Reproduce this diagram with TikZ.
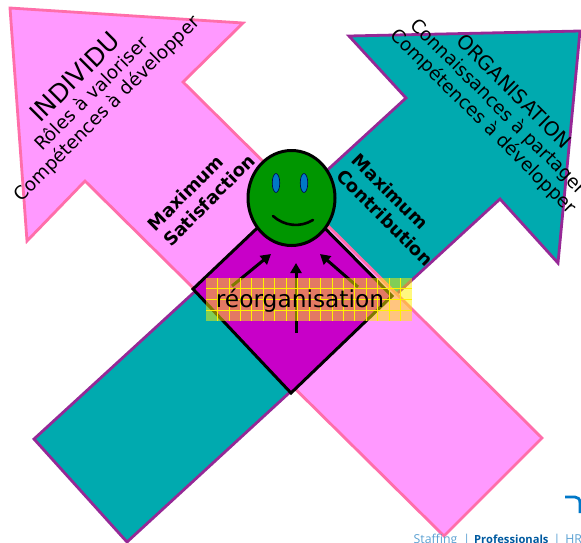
\documentclass[tikz,border=0pt]{standalone}
\usepackage{fontspec}
\setmainfont{DejaVu Sans}
\newfontfamily\footfont{Open Sans}
\usetikzlibrary{arrows.meta,shapes.geometric}
\definecolor{pinkfill}{RGB}{255,153,255}
\definecolor{pinkedge}{RGB}{255,110,170}
\definecolor{tealfill}{RGB}{0,170,175}
\definecolor{tealedge}{RGB}{150,40,150}
\definecolor{diamondfill}{RGB}{200,0,200}
\definecolor{facegreen}{RGB}{0,150,0}
\definecolor{eyeblue}{RGB}{0,120,200}
\definecolor{footlight}{RGB}{90,160,210}
\definecolor{footdark}{RGB}{0,90,160}
\definecolor{cornerblue}{RGB}{0,120,200}
\tikzset{
  pinkarrow/.style={draw=pinkedge,fill=pinkfill,line width=2.8pt,line join=miter},
  tealarrow/.style={draw=tealedge,fill=tealfill,line width=2.8pt,line join=miter},
  blackline/.style={draw=black,line width=3pt},
  upward/.style={draw=black,line width=3pt,-{Triangle[length=10pt,width=11pt]}},
  lab/.style={align=center,text=black,inner sep=0pt},
  titlelab/.style={lab,font=\fontsize{18.4}{21}\selectfont},
  boldlab/.style={lab,align=left,font=\fontsize{18}{22}\selectfont\bfseries},
  eye/.style={ellipse,draw=black!70!blue,line width=0.6pt,fill=eyeblue,minimum width=7.5pt,minimum height=19pt,inner sep=0pt},
  gridline/.style={draw=yellow,line width=0.7pt},
}
\begin{document}
\begin{tikzpicture}[x=1pt,y=-1pt]
\useasboundingbox (0,0) rectangle (581,542);
\clip (0,0) rectangle (581,542);
% arrows
\draw[tealarrow] (349,36) -- (580,31) -- (558,263) -- (500,199) -- (127,542) -- (34,439) -- (406,98) -- cycle;
\draw[pinkarrow] (10,8) -- (243,23) -- (183,82) -- (542,438) -- (444,536) -- (85,181) -- (27,241) -- cycle;
% diamond
\draw[blackline,fill=diamondfill] (193,289) -- (292,195) -- (392,296) -- (291,393) -- cycle;
% face
\node[ellipse,blackline,fill=facegreen,minimum width=87pt,minimum height=95pt,inner sep=0pt] (face) at (291.5,198) {};
\node[eye] (eyeL) at (276,183) {};
\node[eye] (eyeR) at (304,183) {};
\draw[black,line width=2.6pt,line cap=round] (273,216) .. controls (284,226) and (300,228) .. (313,220);
% inner arrows
\coordinate (tailL) at (232,286);
\coordinate (headL) at (271,254);
\coordinate (tailM) at (296,333);
\coordinate (headM) at (296,263);
\coordinate (tailR) at (358,287);
\coordinate (headR) at (320,254);
\draw[upward] (tailL) -- (headL);
\draw[upward] (tailM) -- (headM);
\draw[upward] (tailR) -- (headR);
% translucent label band
\fill[yellow,opacity=0.5] (206,278) rectangle (412,321);
\foreach \i in {1,...,17} \draw[gridline] ({206+\i*206/18},278) -- ({206+\i*206/18},321);
\foreach \j in {1,...,3} \draw[gridline] (206,{278+\j*43/4}) -- (412,{278+\j*43/4});
\node[lab,font=\fontsize{23.3}{26}\selectfont] (reorg) at (300,301) {réorganisation};
% labels
\node[titlelab,rotate=45] (indiv) at (91,93) {{\fontsize{25}{21}\selectfont INDIVIDU}\\Rôles à valoriser\\Compétences à développer};
\node[titlelab,rotate=-45] (orga) at (498,107) {{\fontsize{19.8}{21}\selectfont ORGANISATION}\\Connaissances à partager\\Compétences à développer};
\node[boldlab,rotate=45] (sat) at (201.4,192.4) {Maximum\\Satisfaction};
\node[boldlab,rotate=-45] (contrib) at (393,210) {Maximum\\Contribution};
% footer
\node[anchor=base west,inner sep=0pt,font=\footfont\fontsize{12.3}{13}\selectfont] (foot) at (413.5,543.5) {\textcolor{footlight}{Staffing\hspace{6pt}|\hspace{4pt}}\textcolor{footdark}{\fontsize{11.2}{13}\selectfont\bfseries Professionals}\textcolor{footlight}{\hspace{5pt}|\hspace{5pt}HR}};
\draw[cornerblue,line width=2.8pt] (565,497) -- (575,497) .. controls (578,497) and (580,499) .. (580,503) -- (580,513);
\end{tikzpicture}
\end{document}
